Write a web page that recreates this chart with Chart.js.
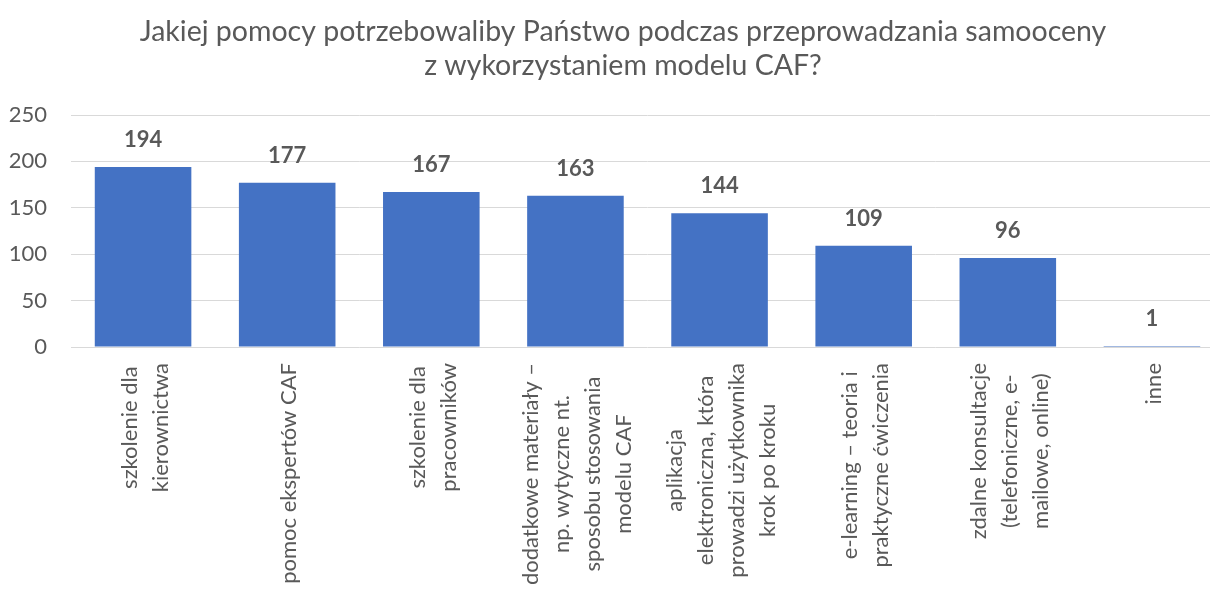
<!DOCTYPE html>
<html lang="pl">
<head>
    <meta charset="UTF-8">
    <title>Pomoc przy samoocenie CAF</title>
    <script src="https://cdn.jsdelivr.net/npm/chart.js"></script>
    <style>
        body { margin: 0; background: #fff; overflow: hidden; }
        .chart-box { width: 1240px; height: 590px; position: relative; }
    </style>
</head>
<body>
    <div class="chart-box"><canvas id="cafChart"></canvas></div>
    <script>
        const titleLines = ['Jakiej pomocy potrzebowaliby Państwo podczas przeprowadzania samooceny', 'z wykorzystaniem modelu CAF?'];
        const categories = [
            ['szkolenie dla', 'kierownictwa'],
            ['pomoc ekspertów CAF'],
            ['szkolenie dla', 'pracowników'],
            ['dodatkowe materiały –', 'np. wytyczne nt.', 'sposobu stosowania', 'modelu CAF'],
            ['aplikacja', 'elektroniczna, która', 'prowadzi użytkownika', 'krok po kroku'],
            ['e-learning – teoria i', 'praktyczne ćwiczenia'],
            ['zdalne konsultacje', '(telefoniczne, e-', 'mailowe, online)'],
            ['inne']
        ];
        const answers = [194, 177, 167, 163, 144, 109, 96, 1];
        const yTicks = [0, 50, 100, 150, 200, 250];

        const textColor = '#595959';
        const fontName = 'Lato, "Open Sans", sans-serif';

        // title drawn by hand so it can sit a bit right of the canvas centre, as in the original
        const chartTitle = {
            id: 'chartTitle',
            afterDraw(chart) {
                const ctx = chart.ctx;
                ctx.save();
                ctx.font = '28.5px ' + fontName;
                ctx.fillStyle = textColor;
                ctx.textAlign = 'center';
                ctx.textBaseline = 'middle';
                titleLines.forEach((t, i) => ctx.fillText(t, 623, 32 + i * 34));
                ctx.restore();
            }
        };

        // category labels: rotated, lines centred on each other, block hanging from the axis
        const catLabels = {
            id: 'catLabels',
            afterDraw(chart) {
                const ctx = chart.ctx, xs = chart.scales.x, area = chart.chartArea;
                ctx.save();
                ctx.font = '22px ' + fontName;
                ctx.fillStyle = textColor;
                ctx.textAlign = 'center';
                ctx.textBaseline = 'middle';
                categories.forEach((lines, i) => {
                    const maxW = Math.max(...lines.map(l => ctx.measureText(l).width));
                    const cx = xs.getPixelForValue(i) + 2;
                    const cy = area.bottom + 16 + maxW / 2;
                    ctx.save();
                    ctx.translate(cx, cy);
                    ctx.rotate(-Math.PI / 2);
                    lines.forEach((l, j) => ctx.fillText(l, 0, (j - (lines.length - 1) / 2) * 31));
                    ctx.restore();
                });
                ctx.restore();
            }
        };

        const valueLabels = {
            id: 'valueLabels',
            afterDatasetsDraw(chart) {
                const ctx = chart.ctx;
                const meta = chart.getDatasetMeta(0);
                ctx.save();
                ctx.font = 'bold 22px ' + fontName;
                ctx.fillStyle = textColor;
                ctx.textAlign = 'center';
                ctx.textBaseline = 'middle';
                meta.data.forEach((bar, i) => ctx.fillText(answers[i], bar.x, bar.y - 27));
                ctx.restore();
            }
        };

        new Chart(document.getElementById('cafChart'), {
            type: 'bar',
            data: {
                labels: categories,
                datasets: [{ data: answers, backgroundColor: '#4472C4', barPercentage: 0.67, categoryPercentage: 1 }]
            },
            options: {
                responsive: true,
                maintainAspectRatio: false,
                animation: false,
                layout: { padding: { top: 115, left: 0, right: 16, bottom: 243 } },
                plugins: {
                    legend: { display: false },
                    tooltip: { enabled: false },
                    title: { display: false }
                },
                scales: {
                    x: { display: false },
                    y: {
                        min: 0, max: 250,
                        afterFit: s => { s.width = 71; },
                        afterBuildTicks: s => { s.ticks = yTicks.map(v => ({ value: v })); },
                        ticks: { color: textColor, padding: 24, font: { family: fontName, size: 22 } },
                        grid: { color: '#D9D9D9', drawTicks: false },
                        border: { display: false }
                    }
                }
            },
            plugins: [chartTitle, catLabels, valueLabels]
        });
    </script>
</body>
</html>
